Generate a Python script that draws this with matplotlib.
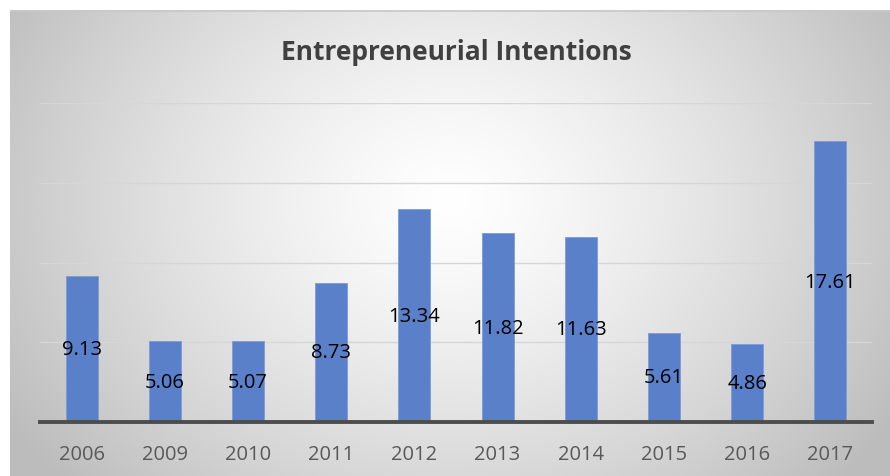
import numpy as np
import matplotlib
matplotlib.use("Agg")
import matplotlib.pyplot as plt

years = ["2006", "2009", "2010", "2011", "2012", "2013", "2014", "2015", "2016", "2017"]
values = [9.13, 5.06, 5.07, 8.73, 13.34, 11.82, 11.63, 5.61, 4.86, 17.61]
title = "Entrepreneurial Intentions"

W, H = 890, 477
fig = plt.figure(figsize=(W / 100, H / 100), dpi=100)
fig.patch.set_facecolor("white")

# chart area background (radial gradient)
bx0, by0 = 10, 11  # left, top in pixels
bg = fig.add_axes([bx0 / W, 0, (W - bx0) / W, (H - by0) / H], zorder=0)
nx, ny = W - bx0, H - by0
xx, yy = np.meshgrid(np.arange(nx), np.arange(ny))
cx, cy = 440, 190
r = np.sqrt(((xx - cx) / 520.0) ** 2 + ((yy - cy) / 420.0) ** 2)
r = np.clip(r, 0, 1)
v = 1.0 - 0.26 * r ** 1.3
img = np.dstack([v, v, v])
bg.imshow(img, aspect="auto", extent=[0, nx, ny, 0])
bg.plot([0, nx], [0.5, 0.5], color="#c8c8c8", lw=1.2)
bg.set_xlim(0, nx)
bg.set_ylim(ny, 0)
bg.axis("off")

left, right = 40, 872
base, top = 423, 104
ax = fig.add_axes([left / W, (H - base) / H, (right - left) / W, (base - top) / H], zorder=1)
ax.patch.set_alpha(0)
x = np.arange(len(years))
bars = ax.bar(x, values, width=0.385, color="#5a80ca", edgecolor="#7d9bd6", linewidth=0.6, zorder=3)
ax.set_xlim(-0.5, len(years) - 0.5)
ax.set_ylim(0, 20)
ax.set_yticks([5, 10, 15, 20])
ax.yaxis.grid(True, color="#d6d6d6", lw=1.0, zorder=0)
ax.tick_params(axis="y", left=False, labelleft=False)
ax.set_xticks(x)
ax.set_xticklabels(years, fontsize=14.5, color="#595959", family="Open Sans")
ax.tick_params(axis="x", length=0, pad=16)
for s in ["top", "right", "left"]:
    ax.spines[s].set_visible(False)
ax.spines["bottom"].set_color("#4d4d4d")
ax.spines["bottom"].set_linewidth(2.8)
ax.spines["bottom"].set_zorder(4)

for xi, val in zip(x, values):
    ax.text(xi, val / 2, f"{val:.2f}", ha="center", va="center", fontsize=14.5,
            color="black", family="Open Sans", zorder=5)

fig.text(456 / W, 1 - 52 / H, title, ha="center", va="center", fontsize=19,
         fontweight="bold", color="#404040", family="Open Sans")

fig.savefig("out.png", dpi=100)
